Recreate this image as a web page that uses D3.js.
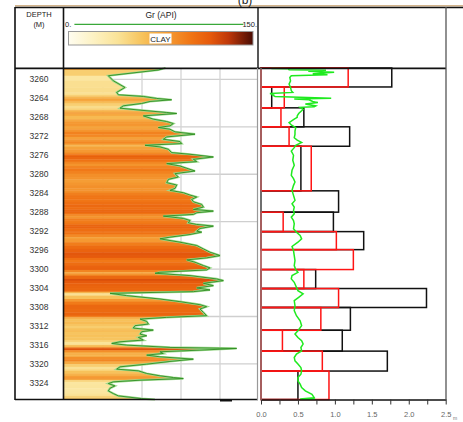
<!DOCTYPE html>
<html>
<head>
<meta charset="utf-8">
<script src="https://cdn.jsdelivr.net/npm/d3@7"></script>
<style>
  body { margin: 0; background: #fff; }
  svg { display: block; font-family: Arial, "Liberation Sans", sans-serif; }
</style>
</head>
<body>
<div id="chart"></div>
<script>
// depth labels and grid
const depthLabels = [3260, 3264, 3268, 3272, 3276, 3280, 3284, 3288, 3292, 3296, 3300, 3304, 3308, 3312, 3316, 3320, 3324];
const gridDepths = [3260, 3270, 3280, 3290, 3300, 3310, 3320];
const grGrid = [30, 60, 90, 120];

// gamma ray curve (API)
const grDepth = [3257.6, 3258.03, 3259.23, 3260.29, 3261.70, 3262.75, 3263.25, 3263.60, 3264.02, 3264.30,
  3264.66, 3265.08, 3265.57, 3266.07, 3266.49, 3266.98, 3267.19, 3267.69, 3268.39, 3268.89,
  3269.31, 3269.80, 3270.15, 3270.51, 3271.07, 3271.56, 3272.13, 3272.62, 3273.11, 3273.54,
  3273.89, 3274.24, 3274.74, 3275.44, 3275.79, 3276.15, 3276.36, 3276.85, 3277.34, 3277.77,
  3278.26, 3278.75, 3279.32, 3279.88, 3280.59, 3281.08, 3281.78, 3282.28, 3282.98, 3283.40,
  3283.90, 3284.39, 3284.81, 3285.31, 3285.80, 3286.36, 3286.93, 3287.42, 3287.77, 3288.12,
  3288.48, 3288.83, 3289.32, 3289.75, 3290.24, 3290.59, 3290.94, 3291.44, 3292.00, 3292.21,
  3292.71, 3293.27, 3293.62, 3294.33, 3295.03, 3295.74, 3296.44, 3297.15, 3297.64, 3298.06,
  3298.56, 3299.26, 3299.75, 3300.18, 3300.67, 3300.88, 3301.37, 3302.08, 3302.43, 3303.00,
  3303.49, 3303.98, 3304.40, 3304.76, 3305.11, 3305.60, 3306.31, 3306.87, 3307.51, 3307.93,
  3308.42, 3309.13, 3309.83, 3310.18, 3310.54, 3311.03, 3311.59, 3311.94, 3312.44, 3312.86,
  3313.21, 3313.71, 3314.06, 3314.41, 3314.97, 3315.33, 3315.68, 3316.03, 3316.52, 3316.74,
  3317.09, 3317.44, 3317.79, 3318.14, 3318.50, 3318.99, 3319.48, 3320.05, 3320.61, 3321.10,
  3321.46, 3322.02, 3322.51, 3322.87, 3323.08, 3323.43, 3323.78, 3324.14, 3324.63, 3325.12,
  3325.69, 3326.25, 3326.74, 3327.31, 3327.5];
const grApi = [78, 72.6, 34.1, 37.9, 46.9, 40.5, 41.8, 61.0, 71.3, 82.8,
  66.2, 59.7, 45.6, 43.1, 58.5, 79.0, 86.7, 61.0, 68.7, 79.0,
  84.1, 81.5, 72.6, 81.5, 85.4, 100.8, 79.0, 76.4, 89.2, 90.5,
  62.3, 73.8, 80.3, 82.8, 96.9, 108.5, 114.9, 99.5, 102.1, 79.0,
  89.2, 94.4, 100.8, 85.4, 87.9, 80.3, 79.0, 86.7, 85.4, 81.5,
  91.8, 96.9, 102.1, 98.2, 99.5, 105.9, 107.2, 99.5, 114.9, 102.1,
  99.5, 76.4, 91.8, 96.9, 95.6, 102.1, 114.9, 104.6, 102.1, 105.9,
  96.9, 81.5, 73.8, 89.2, 102.1, 107.2, 112.3, 120.0, 109.7, 94.4,
  100.8, 107.2, 112.3, 109.7, 73.8, 70.0, 96.9, 117.4, 122.6, 107.2,
  114.9, 102.1, 112.3, 99.5, 35.4, 48.2, 73.8, 89.2, 104.6, 109.7,
  104.6, 107.2, 109.7, 79.0, 58.5, 63.6, 64.9, 54.6, 53.3, 68.7,
  59.7, 58.5, 63.6, 57.2, 61.0, 43.1, 36.7, 48.2, 81.5, 132.8,
  104.6, 73.8, 76.4, 63.6, 73.8, 99.5, 81.5, 63.6, 43.1, 40.5,
  57.2, 63.6, 73.8, 84.1, 91.8, 58.5, 37.9, 34.1, 39.2, 35.4,
  34.1, 37.9, 41.8, 59.7, 70];

// zone bars (right track)
const zoneTop  = [3257.6, 3261.6, 3266.0, 3270.0, 3274.1, 3283.5, 3288.0, 3292.1, 3295.9, 3300.1, 3304.1, 3308.1, 3312.9, 3317.3, 3321.5];
const zoneBase = [3261.6, 3266.0, 3270.0, 3274.1, 3283.5, 3288.0, 3292.1, 3295.9, 3300.1, 3304.1, 3308.1, 3312.9, 3317.3, 3321.5, 3327.5];
const redVal   = [1.18, 0.315, 0.27, 0.38, 0.68, 0, 0.30, 1.02, 1.25, 0.58, 1.05, 0.81, 0.29, 0.83, 0.92];
const blackVal = [1.77, 0.145, 0.58, 1.20, 0.54, 1.05, 0.98, 1.39, 0, 0.74, 2.24, 1.21, 1.10, 1.71, 0.50];

// lime curve (right track)
const limeDepth = [3257.72, 3257.76, 3257.96, 3258.05, 3258.3, 3258.5, 3258.8, 3259.0, 3259.23, 3259.6,
  3260.3, 3261.0, 3261.7, 3262.4, 3262.75, 3262.96, 3263.1, 3263.25, 3263.6, 3264.0,
  3264.15, 3264.3, 3264.66, 3264.9, 3265.2, 3265.6, 3265.75, 3265.9, 3266.3, 3266.6,
  3267.2, 3267.7, 3268.0, 3268.4, 3269.1, 3269.6, 3270.15, 3270.9, 3271.6, 3272.3,
  3272.8, 3273.3, 3273.9, 3274.4, 3275.1, 3276.0, 3277.06, 3278.12, 3279.17, 3280.23,
  3280.93, 3281.65, 3282.35, 3283.40, 3284.46, 3285.52, 3286.22, 3286.93, 3287.63, 3288.33,
  3289.05, 3289.75, 3290.44, 3291.50, 3292.22, 3292.92, 3293.62, 3294.33, 3295.24, 3296.09,
  3297.15, 3298.20, 3299.26, 3300.11, 3300.68, 3301.37, 3302.07, 3302.79, 3303.85, 3304.55,
  3305.24, 3305.96, 3306.66, 3307.72, 3308.77, 3309.83, 3310.89, 3311.94, 3313.00, 3313.70,
  3314.42, 3315.12, 3315.81, 3316.53, 3317.23, 3317.93, 3318.64, 3319.34, 3320.04, 3320.76,
  3321.46, 3322.16, 3322.87, 3323.57, 3324.27, 3324.99, 3325.69, 3326.39, 3327.11, 3327.4, 3327.45];
const limeVal = [0.14, 0.37, 0.38, 0.88, 0.64, 0.99, 0.70, 0.90, 0.41, 0.39,
  0.40, 0.38, 0.40, 0.41, 0.43, 0.12, 0.18, 0.15, 0.19, 0.95,
  0.45, 0.65, 0.70, 0.77, 0.60, 0.74, 0.72, 0.53, 0.57, 0.55,
  0.51, 0.49, 0.49, 0.45, 0.38, 0.41, 0.47, 0.46, 0.46, 0.45,
  0.49, 0.55, 0.47, 0.45, 0.41, 0.44, 0.43, 0.45, 0.42, 0.41,
  0.44, 0.46, 0.44, 0.42, 0.44, 0.46, 0.42, 0.45, 0.44, 0.45,
  0.41, 0.44, 0.45, 0.44, 0.48, 0.53, 0.55, 0.50, 0.42, 0.44,
  0.45, 0.46, 0.45, 0.47, 0.50, 0.42, 0.41, 0.45, 0.48, 0.50,
  0.57, 0.51, 0.45, 0.46, 0.45, 0.48, 0.53, 0.55, 0.50, 0.46,
  0.50, 0.55, 0.57, 0.54, 0.55, 0.48, 0.45, 0.46, 0.50, 0.54,
  0.55, 0.54, 0.50, 0.50, 0.53, 0.55, 0.60, 0.69, 0.72, 0.53, 0.73];

const axisTicks = [0, 0.25, 0.5, 0.75, 1, 1.25, 1.5, 1.75, 2, 2.25, 2.5];
const axisLabels = ["0.0", "", "0.5", "", "1.0", "", "1.5", "", "2.0", "", "2.5"];

const clayStops = ["#fffdf0", "#fdf2c4", "#fae398", "#f7c35c", "#f59c34", "#f07414", "#e65a0c", "#bf380a", "#4a0c04"];
const clayDomain = [0, 20, 40, 60, 80, 100, 115, 130, 150];

const width = 463, height = 422;
const svg = d3.select("#chart").append("svg")
  .attr("width", width)
  .attr("height", height);

const y = d3.scaleLinear().domain([3257.6, 3327.5]).range([68, 399.5]);
const xGr = d3.scaleLinear().domain([0, 150]).range([64, 259]);
const xR = d3.scaleLinear().domain([0, 2.5]).range([261, 445.7]);
const clay = d3.scaleLinear().domain(clayDomain).range(clayStops).clamp(true);

// ---- Gr track grid
svg.append("g").selectAll("line").data(gridDepths).join("line")
  .attr("x1", 64).attr("x2", 257)
  .attr("y1", d => y(d)).attr("y2", d => y(d))
  .attr("stroke", "#cfcfcf").attr("stroke-width", 1.3);
svg.append("g").selectAll("line").data(grGrid).join("line")
  .attr("x1", d => xGr(d)).attr("x2", d => xGr(d))
  .attr("y1", 68).attr("y2", 399.5)
  .attr("stroke", "#d4d4d4").attr("stroke-width", 1.3);

// ---- Gr fill with clay colour stripes
const grPts = grDepth.map((d, i) => [d, grApi[i]]);
const area = d3.area()
  .y(d => y(d[0]))
  .x0(xGr(0))
  .x1(d => xGr(d[1]));

svg.append("clipPath").attr("id", "grClip")
  .append("path").attr("d", area(grPts));

svg.append("g").attr("clip-path", "url(#grClip)")
  .selectAll("rect").data(grPts.slice(1)).join("rect")
  .attr("x", xGr(0))
  .attr("width", xGr(150) - xGr(0))
  .attr("y", (d, i) => y(grPts[i][0]))
  .attr("height", (d, i) => y(d[0]) - y(grPts[i][0]) + 0.4)
  .attr("fill", (d, i) => clay((d[1] + grPts[i][1]) / 2));

const grLine = d3.line().y(d => y(d[0])).x(d => xGr(d[1]));
svg.append("path").attr("d", grLine(grPts))
  .attr("fill", "none").attr("stroke", "#9fd98f").attr("stroke-width", 2.2);
svg.append("path").attr("d", grLine(grPts))
  .attr("fill", "none").attr("stroke", "#2f8f22").attr("stroke-width", 0.9);

// ---- right track zone boxes
const zones = zoneTop.map((t, i) => ({ top: t, base: zoneBase[i], red: redVal[i], black: blackVal[i] }));
svg.append("g").selectAll("rect").data(zones.filter(z => z.black > 0)).join("rect")
  .attr("x", xR(0)).attr("y", d => y(d.top))
  .attr("width", d => xR(d.black) - xR(0))
  .attr("height", d => y(d.base) - y(d.top))
  .attr("fill", "none").attr("stroke", "#111").attr("stroke-width", 1.5);
svg.append("g").selectAll("rect").data(zones.filter(z => z.red > 0)).join("rect")
  .attr("x", xR(0)).attr("y", d => y(d.top))
  .attr("width", d => xR(d.red) - xR(0))
  .attr("height", d => y(d.base) - y(d.top))
  .attr("fill", "none").attr("stroke", "#ff1414").attr("stroke-width", 1.5);

const limePts = limeDepth.map((d, i) => [d, limeVal[i]]);
svg.append("path")
  .attr("d", d3.line().y(d => y(d[0])).x(d => xR(d[1]))(limePts))
  .attr("fill", "none").attr("stroke", "#1fea1f").attr("stroke-width", 1.5);

// ---- bottom axis for right track
const axis = svg.append("g").attr("transform", "translate(0,399.5)")
  .call(d3.axisBottom(xR).tickValues(axisTicks).tickSize(5).tickSizeOuter(0)
    .tickFormat((d, i) => axisLabels[i]));
axis.select(".domain").attr("stroke", "#111").attr("stroke-width", 1.5);
axis.selectAll(".tick line").attr("stroke", "#333");
axis.selectAll(".tick text").attr("y", 12).attr("fill", "#666")
  .attr("font-size", 7.5).attr("font-family", "Arial, sans-serif");
svg.append("text").attr("x", 453).attr("y", 420).attr("font-size", 5).attr("fill", "#777").text("m");

// ---- frame
const frame = svg.append("g").attr("fill", "none");
frame.append("line").attr("x1", 15).attr("x2", 463).attr("y1", 5.8).attr("y2", 5.8)
  .attr("stroke", "#d2b48c").attr("stroke-width", 1.4);
frame.append("line").attr("x1", 15).attr("x2", 463).attr("y1", 7.5).attr("y2", 7.5)
  .attr("stroke", "#111").attr("stroke-width", 1.6);
frame.append("line").attr("x1", 15).attr("x2", 446).attr("y1", 68.3).attr("y2", 68.3)
  .attr("stroke", "#111").attr("stroke-width", 1.8);
frame.append("line").attr("x1", 15).attr("x2", 15).attr("y1", 7).attr("y2", 400)
  .attr("stroke", "#111").attr("stroke-width", 1.6);
frame.append("line").attr("x1", 63.5).attr("x2", 63.5).attr("y1", 7).attr("y2", 400)
  .attr("stroke", "#111").attr("stroke-width", 1.6);
frame.append("line").attr("x1", 15).attr("x2", 258).attr("y1", 399.5).attr("y2", 399.5)
  .attr("stroke", "#111").attr("stroke-width", 1.5);
frame.append("line").attr("x1", 258).attr("x2", 258).attr("y1", 7).attr("y2", 68)
  .attr("stroke", "#111").attr("stroke-width", 1.4);
frame.append("line").attr("x1", 257.5).attr("x2", 257.5).attr("y1", 68).attr("y2", 400)
  .attr("stroke", "#999").attr("stroke-width", 1.2);
frame.append("line").attr("x1", 261).attr("x2", 261).attr("y1", 68).attr("y2", 400)
  .attr("stroke", "#888").attr("stroke-width", 1.2);
frame.append("line").attr("x1", 446).attr("x2", 446).attr("y1", 7).attr("y2", 400)
  .attr("stroke", "#555").attr("stroke-width", 1.3);
frame.append("line").attr("x1", 220).attr("x2", 232).attr("y1", 400.5).attr("y2", 400.5)
  .attr("stroke", "#111").attr("stroke-width", 2);

// ---- header
svg.append("text").attr("x", 245).attr("y", 4).attr("text-anchor", "middle")
  .attr("font-size", 12).attr("fill", "#222").text("(b)");
svg.append("text").attr("x", 39).attr("y", 17).attr("text-anchor", "middle")
  .attr("font-size", 7.5).attr("fill", "#222").text("DEPTH");
svg.append("text").attr("x", 39).attr("y", 27).attr("text-anchor", "middle")
  .attr("font-size", 7.5).attr("fill", "#222").text("(M)");
svg.append("text").attr("x", 161).attr("y", 18).attr("text-anchor", "middle")
  .attr("font-size", 8.5).attr("fill", "#222").text("Gr (API)");
svg.append("line").attr("x1", xGr(8)).attr("x2", xGr(138)).attr("y1", 24.3).attr("y2", 24.3)
  .attr("stroke", "#3aa83a").attr("stroke-width", 1.2);
svg.append("text").attr("x", 65).attr("y", 27).attr("font-size", 7.5).attr("fill", "#222").text("0.");
svg.append("text").attr("x", 257).attr("y", 27).attr("text-anchor", "end")
  .attr("font-size", 7.5).attr("fill", "#222").text("150.");

const grad = svg.append("defs").append("linearGradient").attr("id", "clayGrad");
grad.selectAll("stop").data(clayDomain).join("stop")
  .attr("offset", d => (d / 150 * 100) + "%")
  .attr("stop-color", d => clay(d));
svg.append("rect").attr("x", 68.5).attr("y", 31.5).attr("width", 184.5).attr("height", 13.5)
  .attr("fill", "url(#clayGrad)").attr("stroke", "#999").attr("stroke-width", 1);
svg.append("rect").attr("x", 149.5).attr("y", 33.5).attr("width", 22).attr("height", 10)
  .attr("fill", "#fff");
svg.append("text").attr("x", 160.5).attr("y", 41.8).attr("text-anchor", "middle")
  .attr("font-size", 8).attr("fill", "#222").text("CLAY");

// ---- depth labels
svg.append("g").selectAll("text").data(depthLabels).join("text")
  .attr("x", 39).attr("y", d => y(d) + 3)
  .attr("text-anchor", "middle")
  .attr("font-size", 8.5).attr("fill", "#333")
  .text(d => d);
</script>
</body>
</html>
